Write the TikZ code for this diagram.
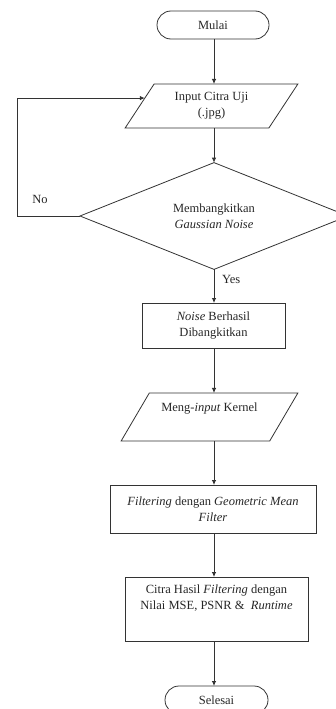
\documentclass[tikz,border=0pt]{standalone}
\usepackage{fontspec}
\setmainfont{Liberation Serif}
\usetikzlibrary{shapes.geometric,arrows.meta,calc}
\begin{document}
\begin{tikzpicture}[x=1pt,y=-1pt,
  every node/.style={font=\fontsize{12.5}{16}\selectfont, text=black!85, outer sep=0pt, inner sep=1pt},
  ln/.style={draw=black!80, line width=0.8pt},
  arr/.style={ln, -{Latex[length=5pt,width=4.5pt]}},
  term/.style={ln, rectangle, rounded corners=14pt, minimum height=28pt},
  proc/.style={ln, rectangle, align=center},
  io/.style={ln, trapezium, trapezium stretches=true, align=center},
  dec/.style={ln, diamond, align=center, minimum width=268pt, minimum height=90pt, inner sep=0pt}
]
\useasboundingbox (0,0) rectangle (336,709);
\coordinate (col) at (214,0);
\coordinate (loopx) at (17,0);

\node[term, minimum width=112pt] (mulai) at (213,25) {Mulai};
\node[io, trapezium left angle=56.6, trapezium right angle=123.4, minimum width=173pt, minimum height=44pt] (inp) at (211.5,106) {Input Citra Uji\\(.jpg)};
\node[dec] (dia) at (214,216) {Membangkitkan\\\textit{Gaussian Noise}};
\node[proc, minimum width=143pt, minimum height=45pt] (noise) at (213.5,325.5) {\textit{Noise} Berhasil\\Dibangkitkan};
\node[io, trapezium left angle=53.1, trapezium right angle=126.9, minimum width=177pt, minimum height=48pt] (kern) at (209.5,417) {Meng-\textit{input} Kernel\\[4pt]~};
\node[proc, minimum width=206pt, minimum height=48pt] (filt) at (213,509) {\textit{Filtering} dengan \textit{Geometric Mean}\\\textit{Filter}};
\node[proc, minimum width=183pt, minimum height=64pt] (hasil) at (216.5,609) {Citra Hasil \textit{Filtering} dengan\\Nilai MSE, PSNR \&\ \ \textit{Runtime}\\[8pt]~};
\node[term, minimum width=103pt] (selesai) at (216.5,700) {Selesai};

\node (no) at (40,199) {No};
\node[anchor=west] (yes) at (221,279) {Yes};

\draw[arr] (mulai.south -| col) -- (inp.north -| col);
\draw[arr] (inp.south -| col) -- (dia.north);
\draw[arr] (dia.south) -- (noise.north -| col);
\draw[arr] (noise.south -| col) -- (kern.north -| col);
\draw[arr] (kern.south -| col) -- (filt.north -| col);
\draw[arr] (filt.south -| col) -- (hasil.north -| col);
\draw[arr] (hasil.south -| col) -- (selesai.north -| col);

\coordinate (tgt) at ($(inp.top left corner)!0.32!(inp.bottom left corner)$);
\draw[arr] (dia.west) -- (dia.west -| loopx) |- (tgt);
\end{tikzpicture}
\end{document}
